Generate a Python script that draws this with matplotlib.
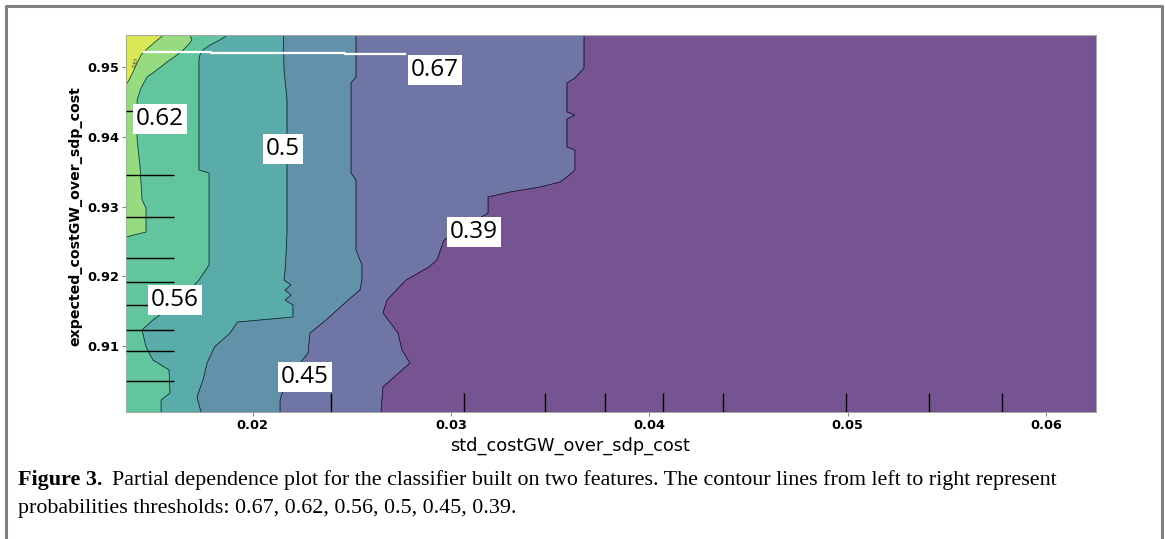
import numpy as np
import matplotlib.pyplot as plt
from matplotlib.colors import Normalize
from matplotlib.lines import Line2D
from matplotlib.text import Annotation

# extent of the partial dependence grid
x_min, x_max = 0.01361, 0.06253
y_min, y_max = 0.90056, 0.9545

# 8 contour levels, the 6 inner ones are drawn as lines
niveis = [0.333, 0.39, 0.447, 0.503, 0.56, 0.617, 0.673, 0.73]

# contour lines (top -> bottom)
c067_x = [0.01548, 0.01507, 0.01472, 0.01437, 0.01417, 0.01396, 0.01376, 0.01361]
c067_y = [0.9545, 0.95357, 0.95271, 0.95171, 0.95056, 0.94927, 0.94812, 0.94741]

c062_x = [0.01684, 0.01694, 0.01674, 0.01649, 0.01618, 0.01568, 0.01517, 0.01467, 0.01437,
          0.01417, 0.01417, 0.01432, 0.01442, 0.01462, 0.01462, 0.01401, 0.01361]
c062_y = [0.9545, 0.95386, 0.95314, 0.95242, 0.95171, 0.95070, 0.94956, 0.94855, 0.94698,
          0.94526, 0.93953, 0.93566, 0.93093, 0.92979, 0.92635, 0.92592, 0.92563]

c056_x = [0.01870, 0.01835, 0.01785, 0.01749, 0.01734, 0.01729, 0.01729, 0.01780, 0.01780,
          0.01729, 0.01633, 0.01497, 0.01442, 0.01462, 0.01497, 0.01578, 0.01583, 0.01538, 0.01538]
c056_y = [0.9545, 0.95386, 0.95314, 0.95242, 0.95171, 0.95099, 0.93523, 0.9348, 0.92162,
          0.91947, 0.9166, 0.91374, 0.91231, 0.90987, 0.90801, 0.90658, 0.90328, 0.90228, 0.90056]

c05_x = [0.02155, 0.02158, 0.02173, 0.02173, 0.02165, 0.02158, 0.02193, 0.02163, 0.02193,
         0.02163, 0.02203, 0.02203, 0.01923, 0.01886, 0.01807, 0.01770, 0.01749, 0.01719, 0.01739]
c05_y = [0.9545, 0.94956, 0.94526, 0.92620, 0.92133, 0.91947, 0.91875, 0.91804, 0.91732,
         0.9166, 0.91589, 0.91417, 0.91345, 0.91188, 0.90987, 0.90758, 0.90514, 0.90271, 0.90056]

c045_x = [0.02521, 0.02521, 0.02496, 0.02496, 0.02521, 0.02521, 0.02551, 0.02551, 0.02541,
          0.02465, 0.02370, 0.02289, 0.02279, 0.02213, 0.02158, 0.02138, 0.02138]
c045_y = [0.9545, 0.94855, 0.94770, 0.9348, 0.9338, 0.92377, 0.92162, 0.91947, 0.91804,
          0.91618, 0.91374, 0.91188, 0.90901, 0.90658, 0.90414, 0.90228, 0.90056]

c039_x = [0.03671, 0.03671, 0.03625, 0.03585, 0.03585, 0.03625, 0.03585, 0.03585, 0.03625,
          0.03625, 0.03585, 0.03550, 0.03449, 0.03298, 0.03187, 0.03187, 0.02965, 0.02929,
          0.02889, 0.02773, 0.02677, 0.02657, 0.02733, 0.02753, 0.02793, 0.02657, 0.02647]
c039_y = [0.9545, 0.94984, 0.94841, 0.94770, 0.94354, 0.94311, 0.94254, 0.93853, 0.9381,
          0.93523, 0.93423, 0.93351, 0.93279, 0.93208, 0.93136, 0.92907, 0.9252, 0.92234,
          0.92133, 0.91947, 0.9166, 0.91474, 0.91188, 0.90944, 0.90758, 0.90414, 0.90056]

# left to right: 0.67, 0.62, 0.56, 0.5, 0.45, 0.39
linhas = [(c067_x, c067_y), (c062_x, c062_y), (c056_x, c056_y),
          (c05_x, c05_y), (c045_x, c045_y), (c039_x, c039_y)]

# manual labels (boxes) of the figure
rotulos = ['0.67', '0.62', '0.56', '0.5', '0.45', '0.39']
rot_x = [0.02919, 0.01532, 0.01608, 0.02153, 0.02264, 0.03116]
rot_y = [0.94956, 0.94254, 0.9166, 0.93824, 0.90557, 0.92635]

# deciles of both features
decis_x = [0.02395, 0.03066, 0.03474, 0.03777, 0.04069, 0.04372, 0.04992, 0.05411, 0.05779]
decis_y = [0.94368, 0.93451, 0.92850, 0.92262, 0.91918, 0.91589, 0.91231, 0.90930, 0.90500]

# white leader line to the 0.67 label
guia_x = [0.01450, 0.01788, 0.01788, 0.02464, 0.02464, 0.02768]
guia_y = [0.95218, 0.95218, 0.95204, 0.95204, 0.95185, 0.95185]

legenda1 = 'Partial dependence plot for the classifier built on two features. The contour lines from left to right represent'
legenda2 = 'probabilities thresholds: 0.67, 0.62, 0.56, 0.5, 0.45, 0.39.'

fig = plt.figure(figsize=(11.65, 5.39), dpi=100)
ax = fig.add_axes([0.10815, 0.23562, 0.83262, 0.69852])

cmap = plt.cm.viridis
norm = Normalize(niveis[0], niveis[-1])

# boundaries incl. the axes edges
bordas = [([x_min, x_min], [y_max, y_min])]
for cx, cy in linhas:
    bx, by = list(cx), list(cy)
    if by[-1] > y_min:
        bx.append(x_min)
        by.append(y_min)
    bordas.append((bx, by))
bordas.append(([x_max, x_max], [y_max, y_min]))

n = len(bordas) - 1
for k in range(n):
    ax_, ay_ = bordas[k]
    bx_, by_ = bordas[k + 1]
    xs = ax_ + bx_[::-1]
    ys = ay_ + by_[::-1]
    nivel = n - 1 - k
    meio = (niveis[nivel] + niveis[nivel + 1]) / 2
    ax.fill(xs, ys, color=cmap(norm(meio)), alpha=0.75, lw=0.3, ec=cmap(norm(meio)), zorder=1)

for cx, cy in linhas:
    ax.plot(cx, cy, color='k', lw=0.5, alpha=0.8, zorder=2)

ax.vlines(decis_x, 0, 0.05, transform=ax.get_xaxis_transform(), color='k', lw=1, zorder=3)
ax.hlines(decis_y, 0, 0.05, transform=ax.get_yaxis_transform(), color='k', lw=1, zorder=3)

ax.plot(guia_x, guia_y, color='white', lw=1.6, zorder=4)
ax.text(0.01411, 0.9507, '0.67', fontsize=3.5, rotation=72, ha='center', va='center',
        color='#333333', zorder=4)

for t, x, y in zip(rotulos, rot_x, rot_y):
    ax.text(x, y, t, fontsize=17.5, family='Open Sans', ha='center', va='center', zorder=5,
            bbox=dict(boxstyle='square,pad=0.12', fc='white', ec='none'))

ax.set_xlim(x_min, x_max)
ax.set_ylim(y_min, y_max)
ax.set_xticks([0.02, 0.03, 0.04, 0.05, 0.06])
ax.set_yticks([0.91, 0.92, 0.93, 0.94, 0.95])
for lab in ax.get_xticklabels() + ax.get_yticklabels():
    lab.set_fontweight('bold')
    lab.set_fontsize(9.3)
ax.tick_params(length=3, color='#888888', pad=2)
for s in ax.spines.values():
    s.set_color('#aaaaaa')
    s.set_linewidth(0.8)

ax.set_xlabel('std_costGW_over_sdp_cost', fontsize=12.8, labelpad=1)
ax.xaxis.set_label_coords(0.458, -0.067)
ax.set_ylabel('expected_costGW_over_sdp_cost', fontsize=10.2, fontweight='bold', labelpad=2)
ax.yaxis.set_label_coords(-0.045, 0.52)

# caption
t1 = fig.text(18 / 1165, 1 - 490 / 539, 'Figure 3.', fontsize=15.8, family='Liberation Serif',
              fontweight='bold', va='bottom')
an = Annotation(legenda1, xy=(1, 0), xycoords=t1, xytext=(7, 0), textcoords='offset points',
                fontsize=15.8, family='Liberation Serif', va='bottom')
fig.add_artist(an)
fig.text(18 / 1165, 1 - 518 / 539, legenda2, fontsize=15.8, family='Liberation Serif', va='bottom')

# frame of the figure
fig.add_artist(Line2D([6 / 1165, 6 / 1165, 1161.5 / 1165, 1161.5 / 1165],
                      [0, 1 - 5.5 / 539, 1 - 5.5 / 539, 0], color='#808080', lw=2.2))

fig.savefig('out.png', dpi=100)
